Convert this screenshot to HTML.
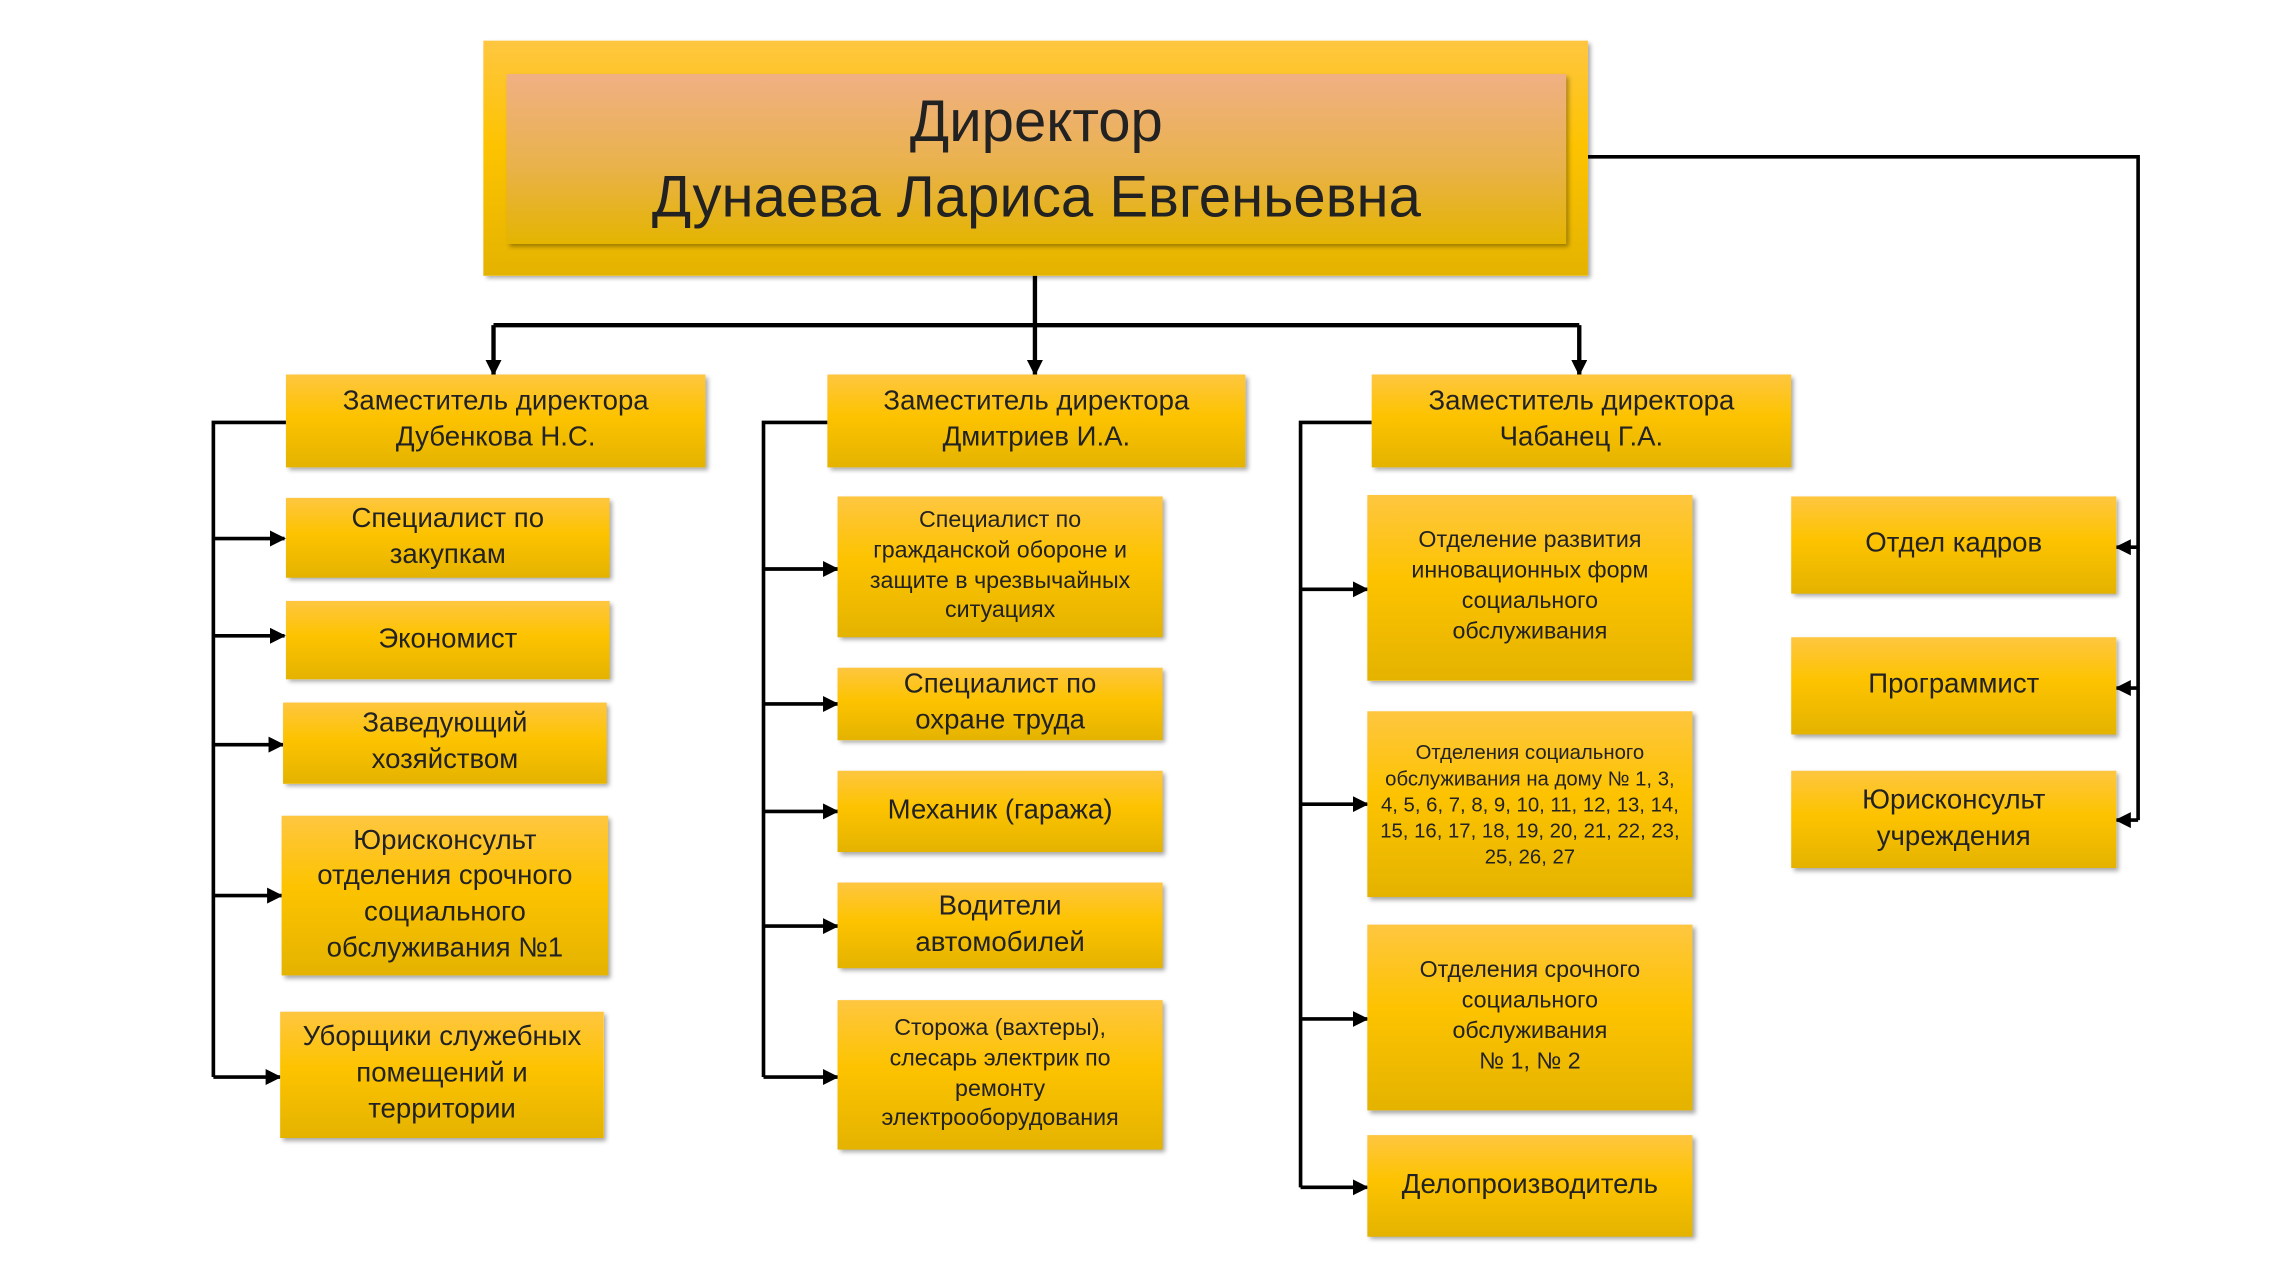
<!DOCTYPE html>
<html><head><meta charset="utf-8"><style>
html,body{margin:0;padding:0;background:#fff;width:2276px;height:1280px;overflow:hidden}
#s{position:absolute;left:0;top:0;width:1568px;height:882px;transform:scale(1.45153);transform-origin:0 0}
.b{position:absolute;display:flex;align-items:center;justify-content:center;text-align:center;box-sizing:border-box;
background:linear-gradient(#fec640,#fdc300 45%,#e4b300);color:#222;font-family:"Liberation Sans","DejaVu Sans",sans-serif;
box-shadow:2px 2px 3px rgba(0,0,0,.35);line-height:1.3;padding:0 4px}
svg{position:absolute;left:0;top:0}
</style></head><body><div id="s">
<svg width="1568" height="882">
<defs><marker id="a" markerWidth="11" markerHeight="11" refX="10" refY="5.5" orient="auto" markerUnits="userSpaceOnUse"><path d="M0,0 L11,5.5 L0,11z" fill="#000"/></marker></defs>
<g stroke="#000" stroke-width="3" fill="none">
<line x1="713" y1="190" x2="713" y2="224"/>
<line x1="340" y1="224" x2="1088" y2="224"/>
<line x1="340" y1="224" x2="340" y2="258" marker-end="url(#a)"/>
<line x1="713" y1="224" x2="713" y2="258" marker-end="url(#a)"/>
<line x1="1088" y1="224" x2="1088" y2="258" marker-end="url(#a)"/>
</g>
<g stroke="#000" stroke-width="2.5" fill="none">
<polyline points="197,291 147,291 147,742"/>
<line x1="147" y1="371" x2="196" y2="371" marker-end="url(#a)"/>
<line x1="147" y1="438" x2="196" y2="438" marker-end="url(#a)"/>
<line x1="147" y1="513" x2="195" y2="513" marker-end="url(#a)"/>
<line x1="147" y1="617" x2="194" y2="617" marker-end="url(#a)"/>
<line x1="147" y1="742" x2="193" y2="742" marker-end="url(#a)"/>
<polyline points="570,291 526,291 526,742"/>
<line x1="526" y1="392" x2="577" y2="392" marker-end="url(#a)"/>
<line x1="526" y1="485" x2="577" y2="485" marker-end="url(#a)"/>
<line x1="526" y1="559" x2="577" y2="559" marker-end="url(#a)"/>
<line x1="526" y1="638" x2="577" y2="638" marker-end="url(#a)"/>
<line x1="526" y1="742" x2="577" y2="742" marker-end="url(#a)"/>
<polyline points="945,291 896,291 896,818"/>
<line x1="896" y1="406" x2="942" y2="406" marker-end="url(#a)"/>
<line x1="896" y1="554" x2="942" y2="554" marker-end="url(#a)"/>
<line x1="896" y1="702" x2="942" y2="702" marker-end="url(#a)"/>
<line x1="896" y1="818" x2="942" y2="818" marker-end="url(#a)"/>
<polyline points="1094,108 1473,108 1473,565"/>
<line x1="1473" y1="377" x2="1458" y2="377" marker-end="url(#a)"/>
<line x1="1473" y1="474" x2="1458" y2="474" marker-end="url(#a)"/>
<line x1="1473" y1="565" x2="1458" y2="565" marker-end="url(#a)"/>
</g>
</svg>
<div class="b" style="left:333px;top:28px;width:761px;height:162px"></div>
<div class="b" style="left:349px;top:51px;width:730px;height:117px;background:linear-gradient(#f0b084,#e9b24a 55%,#e4b400);font-size:40px;line-height:1.3">Директор<br>Дунаева Лариса Евгеньевна</div>

<div class="b" style="left:197px;top:258px;width:289px;height:64px;font-size:19px">Заместитель директора<br>Дубенкова Н.С.</div>
<div class="b" style="left:570px;top:258px;width:288px;height:64px;font-size:19px">Заместитель директора<br>Дмитриев И.А.</div>
<div class="b" style="left:945px;top:258px;width:289px;height:64px;font-size:19px">Заместитель директора<br>Чабанец Г.А.</div>

<div class="b" style="left:197px;top:343px;width:223px;height:55px;font-size:19px">Специалист по<br>закупкам</div>
<div class="b" style="left:197px;top:414px;width:223px;height:54px;font-size:19px">Экономист</div>
<div class="b" style="left:195px;top:484px;width:223px;height:56px;font-size:19px">Заведующий<br>хозяйством</div>
<div class="b" style="left:194px;top:562px;width:225px;height:110px;font-size:19px">Юрисконсульт отделения срочного социального обслуживания №1</div>
<div class="b" style="left:193px;top:697px;width:223px;height:87px;font-size:19px">Уборщики служебных помещений и территории</div>

<div class="b" style="left:577px;top:342px;width:224px;height:97px;font-size:16px;padding:0 12px">Специалист по гражданской обороне и защите в чрезвычайных ситуациях</div>
<div class="b" style="left:577px;top:460px;width:224px;height:50px;font-size:19px">Специалист по<br>охране труда</div>
<div class="b" style="left:577px;top:531px;width:224px;height:56px;font-size:19px">Механик (гаража)</div>
<div class="b" style="left:577px;top:608px;width:224px;height:59px;font-size:19px">Водители<br>автомобилей</div>
<div class="b" style="left:577px;top:689px;width:224px;height:103px;font-size:16px;padding:0 18px">Сторожа (вахтеры), слесарь электрик по ремонту электрооборудования</div>

<div class="b" style="left:942px;top:341px;width:224px;height:128px;font-size:16px;padding:0 14px">Отделение развития инновационных форм социального обслуживания</div>
<div class="b" style="left:942px;top:490px;width:224px;height:128px;font-size:14px;padding:0 8px">Отделения социального обслуживания на дому № 1, 3, 4, 5, 6, 7, 8, 9, 10, 11, 12, 13, 14, 15, 16, 17, 18, 19, 20, 21, 22, 23, 25, 26, 27</div>
<div class="b" style="left:942px;top:637px;width:224px;height:128px;font-size:16px;padding:0 14px">Отделения срочного социального обслуживания<br>№ 1, № 2</div>
<div class="b" style="left:942px;top:782px;width:224px;height:70px;font-size:19px">Делопроизводитель</div>

<div class="b" style="left:1234px;top:342px;width:224px;height:67px;font-size:19px">Отдел кадров</div>
<div class="b" style="left:1234px;top:439px;width:224px;height:67px;font-size:19px">Программист</div>
<div class="b" style="left:1234px;top:531px;width:224px;height:67px;font-size:19px">Юрисконсульт<br>учреждения</div>
</div></body></html>
